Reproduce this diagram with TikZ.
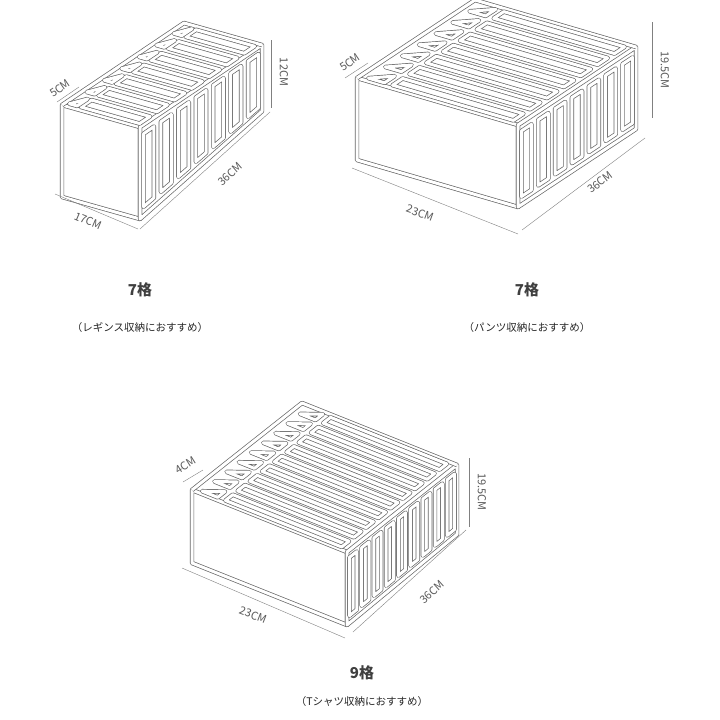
\documentclass[tikz,border=0pt]{standalone}
\usepackage{fontspec}
\setmainfont{Noto Sans CJK JP}
\usetikzlibrary{calc}
\tikzset{band/.style={draw=black!60,line width=0.7pt,double=white,double distance=3pt,line join=round},
dim/.style={draw=black!50,line width=0.4pt},
dl/.style={text=black!65,font=\fontsize{11}{13}\selectfont,inner sep=0pt},
title/.style={font=\fontsize{15}{18}\selectfont\bfseries,text=black!75},
sub/.style={font=\fontsize{10.5}{13}\selectfont,text=black!85}}
\newcommand{\Pp}[3]{($(O)+#1*(W)+#2*(D)+{#3*(1-\kk*#2)}*(Hv)$)}
\newcommand{\mybox}[6]{%
\def\kk{#6}%
\coordinate (O) at #1; \coordinate (W) at #2; \coordinate (Hv) at (0,#3); \coordinate (D) at #4;
\draw[band] \Pp{0}{0}{0} -- \Pp{1}{0}{0} -- \Pp{1}{0}{1} -- \Pp{0}{0}{1} -- cycle;
\draw[band] \Pp{1}{0}{0} -- \Pp{1}{1}{0} -- \Pp{1}{1}{1} -- \Pp{1}{0}{1} -- cycle;
\draw[band] \Pp{0}{0}{0} -- \Pp{0}{1}{0} -- \Pp{1}{1}{0};
\foreach \i in {1,...,#5}{
 \pgfmathsetmacro\a{(\i-1+0.2)/#5}\pgfmathsetmacro\b{(\i-1+0.8)/#5}
 \draw[band] \Pp{1}{\a}{0.1} -- \Pp{1}{\b}{0.1} -- \Pp{1}{\b}{0.9} -- \Pp{1}{\a}{0.9} -- cycle;
 \draw[band] \Pp{0.2}{\a}{0} -- \Pp{0.2}{\b}{0} -- \Pp{0.95}{\b}{0} -- \Pp{0.95}{\a}{0} -- cycle;
 \draw[band] \Pp{0.05}{\a}{0} -- \Pp{0.15}{\a}{0} -- \Pp{0.15}{\b}{0} -- cycle;
}}
\begin{document}
\begin{tikzpicture}[x=1pt,y=-1pt]
\useasboundingbox[fill=white] (0,0) rectangle (720,720);
\mybox{(62,105)}{(78,22)}{92}{(122,-82)}{7}{0.28}
\mybox{(357,78)}{(161,47)}{82}{(118,-78)}{7}{0}
\mybox{(192,490)}{(155,62)}{73}{(110,-87)}{9}{0.05}
% box1 dims
\coordinate (a1) at (55,194); \coordinate (a2) at (138,229);
\draw[dim] (a1) -- (a2); \node[dl,rotate=-23] (l1) at (88,221) {17CM};
\coordinate (b1) at (140,229); \coordinate (b2) at (270,112);
\draw[dim] (b1) -- (b2); \node[dl,rotate=41] (l2) at (230,174) {36CM};
\coordinate (c1) at (271,40); \coordinate (c2) at (271,108);
\draw[dim] (c1) -- (c2); \node[dl,rotate=-90] (l3) at (284,72) {12CM};
\coordinate (d1) at (57,102); \coordinate (d2) at (79,87);
\draw[dim] (d1) -- (d2); \node[dl,rotate=34] (l4) at (60,88) {5CM};
% box2 dims
\coordinate (e1) at (352,168); \coordinate (e2) at (518,234);
\draw[dim] (e1) -- (e2); \node[dl,rotate=-20] (l5) at (420,213) {23CM};
\coordinate (f1) at (522,230); \coordinate (f2) at (645,138);
\draw[dim] (f1) -- (f2); \node[dl,rotate=37] (l6) at (600,182) {36CM};
\coordinate (g1) at (652,22); \coordinate (g2) at (652,118);
\draw[dim] (g1) -- (g2); \node[dl,rotate=-90] (l7) at (665,70) {19.5CM};
\coordinate (h1) at (345,78); \coordinate (h2) at (368,63);
\draw[dim] (h1) -- (h2); \node[dl,rotate=34] (l8) at (350,62) {5CM};
% box3 dims
\coordinate (i1) at (182,568); \coordinate (i2) at (345,638);
\draw[dim] (i1) -- (i2); \node[dl,rotate=-21] (l9) at (253,615) {23CM};
\coordinate (j1) at (353,632); \coordinate (j2) at (466,530);
\draw[dim] (j1) -- (j2); \node[dl,rotate=42] (l10) at (432,592) {36CM};
\coordinate (k1) at (469,458); \coordinate (k2) at (469,527);
\draw[dim] (k1) -- (k2); \node[dl,rotate=-90] (l11) at (482,492) {19.5CM};
\coordinate (m1) at (183,482); \coordinate (m2) at (203,470);
\draw[dim] (m1) -- (m2); \node[dl,rotate=32] (l12) at (186,465) {4CM};
% titles
\node[title] (t1) at (140,290) {7格};
\node[sub] (s1) at (140,328) {（レギンス収納におすすめ）};
\node[title] (t2) at (527,290) {7格};
\node[sub] (s2) at (527,328) {（パンツ収納におすすめ）};
\node[title] (t3) at (362,673) {9格};
\node[sub] (s3) at (362,702) {（Tシャツ収納におすすめ）};
\end{tikzpicture}
\end{document}
